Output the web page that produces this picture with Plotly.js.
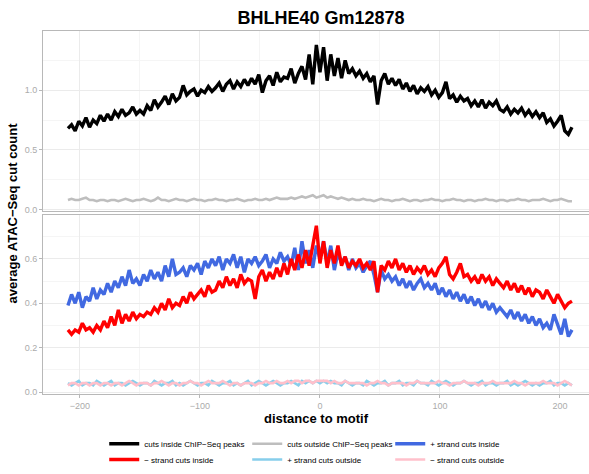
<!DOCTYPE html>
<html>
<head>
<meta charset="utf-8">
<script src="https://cdn.plot.ly/plotly-3.0.1.min.js"></script>
<style>html,body{margin:0;padding:0;background:#fff;}#chart{width:589px;height:474px;}</style>
</head>
<body>
<div id="chart"></div>
<script>
// distance to motif (bp)
const distance = [
-210,-207,-204,-201,-198,-195,-192,-189,-186,-183,-180,
-177,-174,-171,-168,-165,-162,-159,-156,-153,-150,
-147,-144,-141,-138,-135,-132,-129,-126,-123,-120,
-117,-114,-111,-108,-105,-102,-99,-96,-93,-90,
-87,-84,-81,-78,-75,-72,-69,-66,-63,-60,
-57,-54,-51,-48,-45,-42,-39,-36,-33,-30,
-27,-24,-21,-18,-15,-12,-9,-6,-3,0,
3,6,9,12,15,18,21,24,27,30,
33,36,39,42,45,48,51,54,57,60,
63,66,69,72,75,78,81,84,87,90,
93,96,99,102,105,108,111,114,117,120,
123,126,129,132,135,138,141,144,147,150,
153,156,159,162,165,168,171,174,177,180,
183,186,189,192,195,198,201,204,207,210];

const cutsInside = [
0.68,0.71,0.66,0.74,0.70,0.77,0.69,0.75,0.72,0.79,0.74,
0.80,0.75,0.82,0.78,0.84,0.79,0.81,0.86,0.80,0.83,
0.80,0.87,0.83,0.92,0.86,0.90,0.95,0.88,0.97,0.91,
0.94,1.04,0.96,0.99,1.01,0.95,1.00,0.98,1.03,0.99,
1.02,1.06,0.99,1.05,1.08,1.01,1.07,1.03,1.09,1.04,
1.10,1.05,1.13,0.98,1.08,1.12,1.04,1.15,1.07,1.11,
1.10,1.18,1.06,1.14,1.20,1.09,1.30,1.05,1.38,1.15,
1.36,1.08,1.30,1.12,1.27,1.10,1.25,1.14,1.18,1.12,
1.16,1.10,1.14,1.07,1.12,0.88,1.08,1.14,1.05,1.10,
1.04,1.09,1.01,1.06,0.99,1.04,0.97,1.02,0.99,1.03,
0.96,1.00,0.94,0.98,1.07,0.93,0.96,0.90,0.95,0.91,
0.93,0.87,0.91,0.86,0.92,0.85,0.90,0.87,0.91,0.84,
0.82,0.86,0.80,0.84,0.81,0.85,0.79,0.83,0.78,0.82,
0.77,0.81,0.73,0.76,0.70,0.74,0.79,0.66,0.63,0.69];

const cutsOutside = [
0.08,0.09,0.08,0.08,0.09,0.10,0.08,0.08,0.07,0.08,0.08,
0.07,0.08,0.08,0.07,0.08,0.09,0.08,0.07,0.08,0.08,
0.09,0.08,0.07,0.08,0.10,0.08,0.08,0.07,0.08,0.09,
0.08,0.08,0.07,0.08,0.09,0.08,0.08,0.07,0.08,0.08,
0.09,0.08,0.08,0.07,0.08,0.08,0.09,0.08,0.07,0.08,
0.08,0.09,0.08,0.08,0.09,0.08,0.09,0.10,0.09,0.09,
0.09,0.10,0.09,0.10,0.11,0.10,0.11,0.12,0.10,0.11,
0.12,0.10,0.11,0.10,0.09,0.10,0.09,0.08,0.09,0.08,
0.08,0.09,0.08,0.08,0.07,0.08,0.09,0.08,0.08,0.07,
0.08,0.08,0.09,0.08,0.07,0.08,0.08,0.07,0.08,0.08,
0.09,0.08,0.08,0.07,0.08,0.08,0.09,0.08,0.08,0.07,
0.08,0.08,0.07,0.08,0.08,0.09,0.08,0.08,0.07,0.08,
0.08,0.07,0.08,0.08,0.09,0.08,0.08,0.07,0.08,0.08,
0.08,0.09,0.08,0.07,0.08,0.08,0.09,0.08,0.07,0.07];

const plusInside = [
0.39,0.44,0.40,0.45,0.38,0.43,0.41,0.47,0.42,0.46,0.44,
0.49,0.45,0.50,0.47,0.52,0.48,0.55,0.49,0.51,0.48,
0.53,0.50,0.55,0.51,0.54,0.50,0.57,0.52,0.60,0.53,
0.54,0.56,0.52,0.57,0.55,0.58,0.53,0.59,0.56,0.60,
0.57,0.61,0.55,0.60,0.58,0.62,0.56,0.61,0.54,0.60,
0.58,0.61,0.57,0.59,0.62,0.56,0.60,0.58,0.63,0.59,
0.61,0.57,0.65,0.55,0.68,0.58,0.64,0.56,0.66,0.60,
0.68,0.58,0.66,0.55,0.63,0.58,0.61,0.55,0.60,0.56,
0.58,0.54,0.57,0.59,0.53,0.45,0.55,0.51,0.53,0.50,
0.52,0.48,0.51,0.47,0.50,0.46,0.49,0.51,0.47,0.49,
0.46,0.49,0.44,0.47,0.43,0.46,0.42,0.45,0.41,0.44,
0.40,0.43,0.39,0.42,0.38,0.41,0.37,0.40,0.36,0.38,
0.36,0.34,0.37,0.33,0.36,0.32,0.35,0.31,0.34,0.30,
0.33,0.29,0.31,0.28,0.35,0.30,0.26,0.33,0.25,0.28];

const minusInside = [
0.28,0.26,0.28,0.27,0.31,0.28,0.29,0.27,0.30,0.28,0.32,
0.29,0.34,0.30,0.37,0.31,0.35,0.32,0.36,0.33,0.35,
0.34,0.36,0.35,0.38,0.36,0.40,0.37,0.42,0.38,0.40,
0.39,0.43,0.40,0.45,0.42,0.44,0.46,0.43,0.48,0.45,
0.46,0.50,0.47,0.52,0.48,0.51,0.47,0.53,0.49,0.51,
0.50,0.42,0.52,0.55,0.50,0.54,0.51,0.56,0.52,0.58,
0.53,0.60,0.55,0.62,0.56,0.64,0.57,0.66,0.75,0.58,
0.68,0.56,0.64,0.58,0.66,0.57,0.61,0.56,0.59,0.57,
0.60,0.56,0.58,0.55,0.59,0.45,0.57,0.55,0.59,0.56,
0.60,0.55,0.58,0.54,0.57,0.53,0.56,0.54,0.57,0.53,
0.55,0.52,0.56,0.58,0.61,0.53,0.51,0.54,0.58,0.52,
0.53,0.50,0.52,0.49,0.53,0.50,0.52,0.48,0.51,0.49,
0.47,0.50,0.46,0.49,0.45,0.48,0.44,0.47,0.43,0.46,
0.45,0.42,0.46,0.43,0.40,0.44,0.41,0.38,0.40,0.41];

const plusOutside = [
0.04,0.03,0.04,0.05,0.03,0.04,0.04,0.03,0.05,0.04,0.03,
0.04,0.05,0.03,0.04,0.04,0.03,0.04,0.05,0.04,0.03,
0.04,0.04,0.03,0.05,0.04,0.03,0.04,0.04,0.05,0.03,
0.04,0.03,0.04,0.05,0.04,0.03,0.04,0.04,0.03,0.05,
0.04,0.03,0.04,0.04,0.05,0.03,0.04,0.03,0.04,0.05,
0.03,0.04,0.05,0.04,0.03,0.04,0.05,0.04,0.03,0.04,
0.04,0.05,0.04,0.03,0.05,0.04,0.05,0.04,0.05,0.04,
0.05,0.04,0.05,0.04,0.04,0.03,0.05,0.04,0.03,0.04,
0.04,0.03,0.05,0.04,0.03,0.04,0.04,0.05,0.03,0.04,
0.04,0.05,0.03,0.04,0.04,0.03,0.05,0.04,0.04,0.03,
0.05,0.04,0.03,0.04,0.05,0.04,0.03,0.04,0.04,0.05,
0.04,0.03,0.04,0.04,0.05,0.03,0.04,0.04,0.03,0.04,
0.04,0.05,0.03,0.04,0.03,0.04,0.05,0.04,0.03,0.04,
0.03,0.04,0.04,0.05,0.03,0.04,0.04,0.03,0.04,0.03];

const minusOutside = [
0.03,0.04,0.04,0.03,0.04,0.04,0.03,0.04,0.04,0.03,0.04,
0.04,0.03,0.04,0.04,0.03,0.04,0.05,0.04,0.03,0.04,
0.04,0.04,0.03,0.04,0.04,0.05,0.04,0.03,0.04,0.04,
0.03,0.04,0.04,0.05,0.04,0.04,0.03,0.04,0.05,0.04,
0.04,0.04,0.05,0.04,0.03,0.04,0.04,0.03,0.04,0.04,
0.04,0.03,0.04,0.04,0.05,0.04,0.04,0.05,0.04,0.04,
0.05,0.04,0.05,0.05,0.04,0.05,0.05,0.04,0.05,0.05,
0.05,0.05,0.04,0.05,0.04,0.04,0.05,0.04,0.04,0.04,
0.04,0.04,0.03,0.04,0.04,0.05,0.04,0.04,0.03,0.04,
0.04,0.04,0.04,0.03,0.04,0.04,0.05,0.04,0.04,0.04,
0.04,0.04,0.05,0.04,0.04,0.03,0.04,0.04,0.04,0.05,
0.04,0.04,0.04,0.03,0.04,0.04,0.04,0.05,0.04,0.04,
0.04,0.04,0.04,0.05,0.04,0.04,0.03,0.04,0.04,0.04,
0.04,0.05,0.04,0.04,0.04,0.03,0.04,0.05,0.04,0.03];

const seriesNames = ["cuts inside ChIP\u2212Seq peaks","cuts outside ChIP\u2212Seq peaks","+ strand cuts inside",
                     "\u2212 strand cuts inside","+ strand cuts outside","\u2212 strand cuts outside"];
const seriesColors = ["#000000","#bebebe","#4169e1","#ff0000","#87ceeb","#ffc0cb"];

const FONT = "Liberation Sans, Arial, Helvetica, sans-serif";

function tr(y, i, xa, ya, w, leg){
  return {x: distance, y: y, type:'scatter', mode:'lines', name: seriesNames[i],
          xaxis: xa, yaxis: ya, legend: leg,
          line:{color: seriesColors[i], width: w}};
}
const data = [
  tr(cutsInside,0,'x2','y2',3.4,'legend'),
  tr(cutsOutside,1,'x2','y2',2.6,'legend'),
  tr(plusInside,2,'x','y',3.4,'legend'),
  tr(minusInside,3,'x','y',3.4,'legend2'),
  tr(plusOutside,4,'x','y',2.6,'legend2'),
  tr(minusOutside,5,'x','y',2.6,'legend2')
];

const gridC = '#ebebeb', minorC = '#f5f5f5', frameC = '#b8b8b8', tickC = '#ababab';
const xcommon = {range:[-230.8,224.2], dtick:100, tick0:0, showgrid:true, gridcolor:gridC, gridwidth:1,
  minor:{dtick:50, tick0:0, showgrid:true, gridcolor:minorC, gridwidth:1},
  zeroline:false, showline:true, mirror:true, linecolor:frameC, linewidth:1,
  tickfont:{family:FONT, size:9, color:tickC}};
const ycommon = {showgrid:true, gridcolor:gridC, zeroline:false, showline:true, mirror:true,
  linecolor:frameC, linewidth:1, ticks:'outside', ticklen:3, tickcolor:frameC,
  tickfont:{family:FONT, size:9, color:tickC}};

const legendCommon = {orientation:'h', x:0.505, xanchor:'center', yanchor:'middle',
    entrywidth:98, font:{family:FONT, size:8, color:'#000'}, bgcolor:'rgba(0,0,0,0)', itemwidth:30, tracegroupgap:0};

const layout = {
  width:589, height:474, paper_bgcolor:'#ffffff', plot_bgcolor:'#ffffff',
  margin:{l:43, r:0, t:31, b:75},
  font:{family:FONT},
  title:{text:'<b>BHLHE40 Gm12878</b>', font:{family:FONT, size:18, color:'#000'},
         x:0.545, xanchor:'center', y:0.962, yanchor:'middle'},
  xaxis: Object.assign({}, xcommon, {anchor:'y', domain:[0,1], ticks:'outside', ticklen:3, tickcolor:frameC,
          title:{text:'<b>distance to motif</b>', font:{family:FONT, size:13, color:'#000'}, standoff:4}}),
  xaxis2: Object.assign({}, xcommon, {anchor:'y2', domain:[0,1], matches:'x', showticklabels:false, ticks:''}),
  yaxis: Object.assign({}, ycommon, {domain:[0,0.493], range:[-0.009,0.798], dtick:0.2, tick0:0,
          minor:{dtick:0.1, tick0:0, showgrid:true, gridcolor:minorC}, tickformat:'.1f'}),
  yaxis2: Object.assign({}, ycommon, {domain:[0.504,1], range:[-0.0124,1.496], dtick:0.5, tick0:0,
          minor:{dtick:0.25, tick0:0, showgrid:true, gridcolor:minorC}, tickformat:'.1f'}),
  annotations:[{text:'<b>average ATAC\u2212Seq cut count</b>', xref:'paper', yref:'paper',
    x:-0.055, y:0.5, xanchor:'center', yanchor:'middle', textangle:-90, showarrow:false,
    font:{family:FONT, size:13, color:'#000'}}],
  legend: Object.assign({}, legendCommon, {y:-0.137}),
  legend2: Object.assign({}, legendCommon, {y:-0.181}),
  showlegend:true
};

Plotly.newPlot('chart', data, layout, {staticPlot:true, displayModeBar:false});
</script>
</body>
</html>
